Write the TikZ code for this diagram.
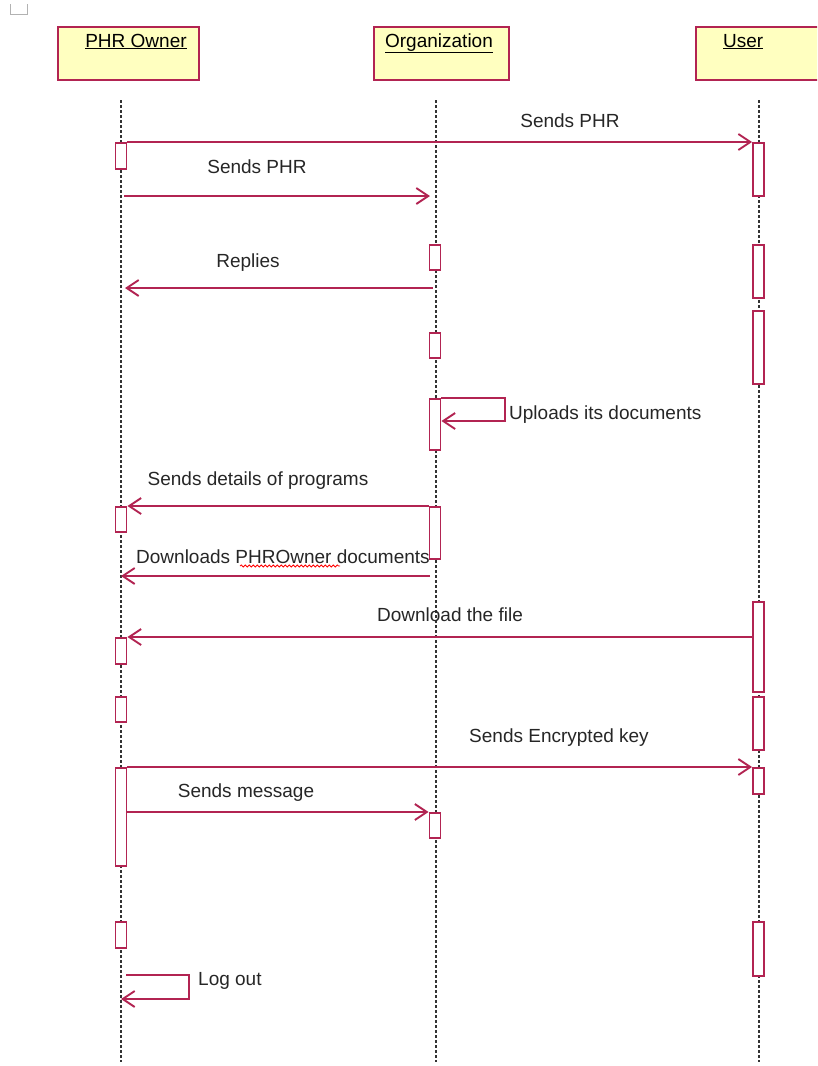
\documentclass[tikz,border=0pt]{standalone}
\usepackage{fontspec}
\setmainfont{Liberation Sans}
\usetikzlibrary{positioning, calc, arrows.meta, decorations.pathmorphing}
\definecolor{phred}{RGB}{178,36,82}
\definecolor{phyellow}{RGB}{255,255,192}

\begin{document}
\begin{tikzpicture}
    [x=1pt, y=-1pt,
    headbox/.style={rectangle, draw=phred, fill=phyellow, line width=2pt, minimum width=141pt, minimum height=53pt, inner sep=0pt},
    headtext/.style={font=\fontsize{19}{22}\selectfont, inner sep=0pt, anchor=base},
    actbox/.style={rectangle, draw=phred, fill=white, line width=1.9pt, minimum width=11pt, inner sep=0pt, anchor=north},
    lifeline/.style={dash pattern=on 3pt off 2pt, line width=1.3pt, black!80},
    msg/.style={draw=phred, line width=1.9pt, -{Straight Barb[length=12pt, width=16pt, line width=1.9pt]}},
    msgtext/.style={font=\fontsize{19}{22}\selectfont, inner sep=0pt, anchor=base, text=black!85},]

    \useasboundingbox (0,0) rectangle (817,1066);
    \clip (0,0) rectangle (817,1066);

    \draw[gray!60, line width=1pt] (10,4) -- (10,14) -- (27,14) -- (27,4);

    %Heads
    \node[headbox](owner) at (128.5,53.5){};
    \node[headbox, minimum width=135pt](org) at (441.5,53.5){};
    \node[headbox](user) at (766.5,53.5){};
    \node[headtext](ownerlbl) at (136,47){\underline{PHR Owner}};
    \node[headtext](orglbl) at (439,47){\underline{Organization}};
    \node[headtext, anchor=base west](userlbl) at (723,47){\underline{User}};

    %Lifelines
    \coordinate (ownerTop) at (121,100);
    \coordinate (ownerBot) at (121,1062);
    \coordinate (orgTop) at (436,100);
    \coordinate (orgBot) at (436,1062);
    \coordinate (userTop) at (759,100);
    \coordinate (userBot) at (759,1062);
    \draw[lifeline] (ownerTop) -- (ownerBot);
    \draw[lifeline] (orgTop) -- (orgBot);
    \draw[lifeline] (userTop) -- (userBot);

    %Activations
    \node[actbox, minimum height=26pt](o1) at (121,142){};
    \node[actbox, minimum height=25pt](o2) at (121,506){};
    \node[actbox, minimum height=26pt](o3) at (121,637){};
    \node[actbox, minimum height=25pt](o4) at (121,696){};
    \node[actbox, minimum height=98pt](o5) at (121,767){};
    \node[actbox, minimum height=26pt](o6) at (121,921){};

    \node[actbox, minimum height=25pt](g1) at (435,244){};
    \node[actbox, minimum height=25pt](g2) at (435,332){};
    \node[actbox, minimum height=51pt](g3) at (435,398){};
    \node[actbox, minimum height=52pt](g4) at (435,506){};
    \node[actbox, minimum height=25pt](g5) at (435,812){};

    \node[actbox, minimum height=53pt](u1) at (758.5,142){};
    \node[actbox, minimum height=53pt](u2) at (758.5,244){};
    \node[actbox, minimum height=73pt](u3) at (758.5,310){};
    \node[actbox, minimum height=90pt](u4) at (758.5,601){};
    \node[actbox, minimum height=53pt](u5) at (758.5,696){};
    \node[actbox, minimum height=26pt](u6) at (758.5,767){};
    \node[actbox, minimum height=54pt](u7) at (758.5,921){};

    %Message ends
    \coordinate (m2a) at (124,196);
    \coordinate (m2b) at (430,196);
    \coordinate (m3a) at (433,288);
    \coordinate (m3b) at (125,288);
    \coordinate (m4a) at (505,398);
    \coordinate (m4b) at (505,421);
    \coordinate (m6a) at (430,576);
    \coordinate (m6b) at (121,576);
    \coordinate (m10a) at (126,975);
    \coordinate (m10b) at (189,975);
    \coordinate (m10c) at (189,999);
    \coordinate (m10d) at (121,999);

    %Messages
    \draw[msg] (o1.north east) -- (u1.north west);
    \draw[msg] (m2a) -- (m2b);
    \draw[msg] (m3a) -- (m3b);
    \draw[msg] (g3.north east) -- (m4a) -- (m4b) -- (g3.east |- m4b);
    \draw[msg] (g4.north west) -- (o2.north east);
    \draw[msg] (m6a) -- (m6b);
    \draw[msg] (u4.west |- o3.north) -- (o3.north east);
    \draw[msg] (o5.north east) -- (u6.north west);
    \draw[msg] (o5.east |- g5.north) -- (g5.north west);
    \draw[msg] (m10a) -- (m10b) -- (m10c) -- (m10d);

    %Labels
    \node[msgtext](l1) at (570,127){Sends PHR};
    \node[msgtext](l2) at (257,173){Sends PHR};
    \node[msgtext](l3) at (248,267){Replies};
    \node[msgtext, anchor=base west](l4) at (509,419){Uploads its documents};
    \node[msgtext](l5) at (258,485){Sends details of programs};
    \node[msgtext](l6) at (283,563){Downloads PHROwner documents};
    \node[msgtext](l7) at (450,621){Download the file};
    \node[msgtext](l8) at (559,742){Sends Encrypted key};
    \node[msgtext](l9) at (246,797){Sends message};
    \node[msgtext, anchor=base west](l10) at (198,985){Log out};

    \draw[red, line width=0.8pt, decorate, decoration={snake, amplitude=1pt, segment length=4pt}] (240,566) -- (340,566);
\end{tikzpicture}
\end{document}
